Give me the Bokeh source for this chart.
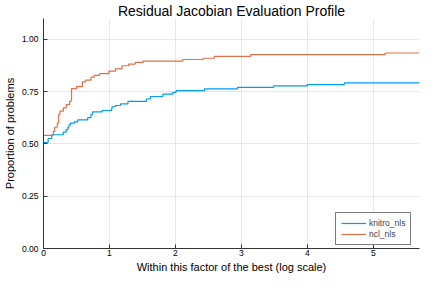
from bokeh.plotting import figure
from bokeh.models import Range1d, FixedTicker, Legend
from bokeh.embed import file_html
from bokeh.resources import INLINE

# ---- data ----
x_end = 5.7
y_end = 1.1

knitro_x = [0.0, 0.07, 0.125, 0.30, 0.345, 0.37, 0.386, 0.41, 0.47, 0.52, 0.67, 0.72, 0.745,
            0.89, 1.03, 1.04, 1.09, 1.17, 1.28, 1.56, 1.62, 1.81, 1.96, 2.01, 2.44, 2.94,
            3.49, 4.0, 4.56]
knitro_y = [0.507, 0.526, 0.544, 0.557, 0.569, 0.58, 0.591, 0.60, 0.606, 0.615, 0.626, 0.642,
            0.653, 0.66, 0.668, 0.678, 0.684, 0.692, 0.704, 0.715, 0.727, 0.738, 0.747, 0.755,
            0.763, 0.771, 0.778, 0.784, 0.792]

ncl_x = [0.0, 0.148, 0.17, 0.21, 0.23, 0.25, 0.30, 0.345, 0.395, 0.42, 0.425, 0.50, 0.59,
         0.64, 0.72, 0.77, 0.85, 0.99, 1.09, 1.19, 1.29, 1.39, 1.51, 2.11, 2.42, 2.59, 3.14,
         5.18]
ncl_y = [0.541, 0.56, 0.58, 0.60, 0.642, 0.657, 0.673, 0.688, 0.704, 0.712, 0.765, 0.774, 0.797,
         0.805, 0.82, 0.828, 0.836, 0.848, 0.859, 0.874, 0.882, 0.89, 0.896, 0.904, 0.910, 0.919,
         0.927, 0.935]

x_ticks = [0, 1, 2, 3, 4, 5]
x_tick_labels = ["0", "1", "2", "3", "4", "5"]
y_ticks = [0.0, 0.25, 0.5, 0.75, 1.0]
y_tick_labels = ["0.00", "0.25", "0.50", "0.75", "1.00"]

series_names = ["knitro_nls", "ncl_nls"]
series_colors = ["#009AFA", "#E36F47"]

FONT = "Liberation Sans"

p = figure(width=420, height=275, output_backend="svg", toolbar_location=None,
           x_range=Range1d(0, x_end), y_range=Range1d(0, y_end),
           title="Residual Jacobian Evaluation Profile",
           min_border_left=0, min_border_right=1, min_border_top=6, min_border_bottom=0)

p.title.align = "center"
p.title.text_font = FONT
p.title.text_font_size = "14px"
p.title.text_font_style = "normal"
p.title.text_color = "#000000"
p.title.text_line_height = 1.0
p.title.standoff = 0
p.title.offset = 0

p.outline_line_color = None
p.background_fill_color = "white"
p.border_fill_color = "white"

for ax in (p.xaxis[0], p.yaxis[0]):
    ax.major_tick_in = 4
    ax.major_tick_out = 0
    ax.minor_tick_line_color = None
    ax.axis_line_color = "#333333"
    ax.major_tick_line_color = "#333333"
    ax.major_label_text_font = FONT
    ax.major_label_text_font_size = "8.5px"
    ax.major_label_text_color = "#000000"
    ax.major_label_text_line_height = 1.0
    ax.axis_label_text_font = FONT
    ax.axis_label_text_font_size = "11px"
    ax.axis_label_text_font_style = "normal"
    ax.axis_label_text_color = "#000000"
    ax.axis_label_text_line_height = 1.0
    ax.major_label_standoff = 1
    ax.axis_label_standoff = 2

p.yaxis[0].major_label_standoff = 5
p.yaxis[0].axis_label_standoff = 3

p.xaxis.ticker = FixedTicker(ticks=x_ticks)
p.xaxis.major_label_overrides = {t: l for t, l in zip(x_ticks, x_tick_labels)}
p.yaxis.ticker = FixedTicker(ticks=y_ticks)
p.yaxis.major_label_overrides = {t: l for t, l in zip(y_ticks, y_tick_labels)}
p.xaxis.axis_label = "Within this factor of the best (log scale)"
p.yaxis.axis_label = "Proportion of problems"

p.grid.grid_line_color = "#e8e8e8"
p.grid.grid_line_width = 1

items = []
for name, color, xs, ys in [(series_names[0], series_colors[0], knitro_x, knitro_y),
                            (series_names[1], series_colors[1], ncl_x, ncl_y)]:
    xx = list(xs) + [x_end]
    yy = list(ys) + [ys[-1]]
    r = p.step(xx, yy, mode="after", line_color=color, line_width=1.2)
    items.append((name, [r]))

legend = Legend(items=items, location=(292, 3))
legend.label_text_font = FONT
legend.label_text_font_size = "8.5px"
legend.glyph_width = 25
legend.glyph_height = 10
legend.label_height = 10
legend.label_standoff = 3
legend.spacing = 1
legend.padding = 5
legend.margin = 0
legend.border_line_color = "#000000"
legend.border_line_width = 1
legend.background_fill_alpha = 1
p.add_layout(legend, "center")

open("out.html", "w").write(file_html(p, INLINE))
